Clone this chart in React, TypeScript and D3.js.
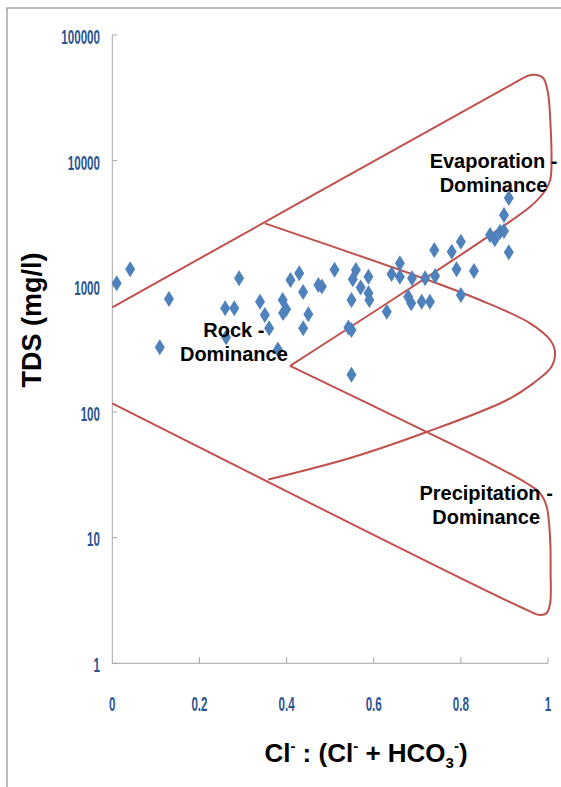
import React from "react";
import * as d3 from "d3";

// ---- data ----
const xTickValues = [0, 0.2, 0.4, 0.6, 0.8, 1];
const xTickLabels = ["0", "0.2", "0.4", "0.6", "0.8", "1"];
const yTickValues = [1, 10, 100, 1000, 10000, 100000];
const yTickLabels = ["1", "10", "100", "1000", "10000", "100000"];

// samples: [Cl/(Cl+HCO3), TDS mg/l]
const samplesX = [
  0.010, 0.041, 0.109, 0.130, 0.259, 0.280, 0.291, 0.261, 0.339, 0.350,
  0.360, 0.380, 0.391, 0.399, 0.392, 0.409, 0.429, 0.438, 0.450, 0.438,
  0.473, 0.481, 0.510, 0.559, 0.552, 0.570, 0.588, 0.588, 0.590, 0.549,
  0.542, 0.549, 0.549, 0.630, 0.641, 0.660, 0.660, 0.688, 0.679, 0.686,
  0.710, 0.729, 0.718, 0.739, 0.741, 0.779, 0.800, 0.790, 0.830, 0.800,
  0.867, 0.878, 0.890, 0.899, 0.899, 0.910, 0.910,
];
const samplesTDS = [
  1057, 1366, 327, 793, 668, 668, 1159, 393, 755, 591,
  464, 314, 778, 656, 613, 1122, 1270, 901, 599, 464,
  1025, 997, 1356, 1349, 1137, 979, 1193, 880, 778, 778,
  470, 449, 198, 628, 1253, 1524, 1193, 1159, 827, 732,
  755, 755, 1159, 1945, 1208, 1885, 2263, 1366, 1324, 853,
  2561, 2366, 2721, 2754, 3697, 5047, 1866,
];

// Gibbs boundary curves: [x, TDS]
const evaporationBoundary: [number, number][] = [
  [0, 680], [0.92, 41000], [0.954, 47400], [0.97, 48300], [0.989, 45500],
  [1.0, 34500], [1.006, 18500], [1.008, 10100], [1.005, 7010], [0.989, 5500],
  [0.959, 4300], [0.408, 233],
];
const precipitationBoundary: [number, number][] = [
  [0.408, 233], [0.76, 59.8], [0.852, 41.5], [0.951, 27.1], [0.982, 22.5],
  [0.997, 17.6], [1.005, 9.6], [1.006, 5.23], [1.005, 3.02], [0.997, 2.51],
  [0.982, 2.42], [0.951, 2.66], [0, 117],
];
const rockBoundary: [number, number][] = [
  [0.35, 3170], [0.714, 1158], [0.844, 778], [0.959, 508], [1.005, 374],
  [1.016, 302], [1.008, 229], [0.966, 169], [0.905, 124], [0.72, 68.9],
  [0.546, 43], [0.358, 29],
];

const zoneLabels = [
  { lines: ["Evaporation -", "Dominance"], x: 0.875, y: 8750 },
  { lines: ["Rock -", "Dominance"], x: 0.279, y: 394 },
  { lines: ["Precipitation -", "Dominance"], x: 0.858, y: 20 },
];

export default function App() {
  const W = 561;
  const H = 787;
  const x = d3.scaleLinear().domain([0, 1]).range([112.3, 548]);
  const y = d3.scaleLog().domain([1, 100000]).range([663.3, 35]);

  const line = d3
    .line<[number, number]>()
    .x((d) => x(d[0]))
    .y((d) => y(d[1]))
    .curve(d3.curveCatmullRom.alpha(0.5));

  const tickColor = "#2B5592";
  const axisColor = "#A6A6A6";
  const red = "#C0504D";
  const blue = "#4F81BD";

  return (
    <svg
      width={W}
      height={H}
      style={{ position: "absolute", left: 0, top: 0, background: "#fff" }}
    >
      <rect x={0} y={0} width={W} height={H} fill="#fff" />
      <rect x={7} y={8} width={800} height={900} fill="none" stroke="#9A9A9A" strokeWidth={1.3} />

      {/* axes */}
      <line x1={x(0)} x2={x(0)} y1={y(100000)} y2={y(1)} stroke={axisColor} strokeWidth={1} />
      <line x1={x(0)} x2={x(1)} y1={y(1)} y2={y(1)} stroke={axisColor} strokeWidth={1} />
      {yTickValues.map((v, i) => (
        <g key={"yt" + i}>
          <line x1={x(0)} x2={x(0) + 5} y1={y(v)} y2={y(v)} stroke={axisColor} />
          <text
            transform={`translate(100, ${y(v) + 1.5}) scale(0.58, 1)`}
            textAnchor="end"
            dominantBaseline="central"
            fontFamily="Liberation Sans, Arial, sans-serif"
            fontWeight="bold"
            fontSize={20}
            fill={tickColor}
          >
            {yTickLabels[i]}
          </text>
        </g>
      ))}
      {xTickValues.map((v, i) => (
        <g key={"xt" + i}>
          {i > 0 && (
            <line x1={x(v)} x2={x(v)} y1={y(1)} y2={y(1) - 6} stroke={axisColor} />
          )}
          <text
            transform={`translate(${x(v)}, 703.5) scale(0.58, 1)`}
            textAnchor="middle"
            dominantBaseline="central"
            fontFamily="Liberation Sans, Arial, sans-serif"
            fontWeight="bold"
            fontSize={20}
            fill={tickColor}
          >
            {xTickLabels[i]}
          </text>
        </g>
      ))}

      {/* boundary curves */}
      {[evaporationBoundary, precipitationBoundary, rockBoundary].map((c, i) => (
        <path key={"c" + i} d={line(c) || ""} fill="none" stroke={red} strokeWidth={2} />
      ))}

      {/* samples */}
      {samplesX.map((sx, i) => (
        <path
          key={"s" + i}
          transform={`translate(${x(sx)}, ${y(samplesTDS[i])})`}
          d="M0,-8 L5,0 L0,8 L-5,0 Z"
          fill={blue}
        />
      ))}

      {/* zone labels */}
      {zoneLabels.map((z, i) => (
        <text
          key={"z" + i}
          x={x(z.x)}
          y={y(z.y)}
          textAnchor="middle"
          fontFamily="Liberation Sans, Arial, sans-serif"
          fontWeight="bold"
          fontSize={20}
          fill="#000"
        >
          {z.lines.map((l, j) => (
            <tspan key={j} x={x(z.x)} dy={j === 0 ? 0 : 24}>
              {l}
            </tspan>
          ))}
        </text>
      ))}

      {/* axis titles */}
      <text
        transform="translate(41, 320) rotate(-90)"
        textAnchor="middle"
        fontFamily="Liberation Sans, Arial, sans-serif"
        fontWeight="bold"
        fontSize={27}
        fill="#000"
      >
        TDS (mg/l)
      </text>
      <text
        x={366}
        y={762}
        textAnchor="middle"
        fontFamily="Liberation Sans, Arial, sans-serif"
        fontWeight="bold"
        fontSize={26}
        fill="#000"
      >
        Cl
        <tspan fontSize={15} dy={-11}>-</tspan>
        <tspan dy={11}> : (Cl</tspan>
        <tspan fontSize={15} dy={-11}>-</tspan>
        <tspan dy={11}> + HCO</tspan>
        <tspan fontSize={15} dy={6}>3</tspan>
        <tspan fontSize={15} dy={-17}>-</tspan>
        <tspan dy={11}>)</tspan>
      </text>
    </svg>
  );
}
